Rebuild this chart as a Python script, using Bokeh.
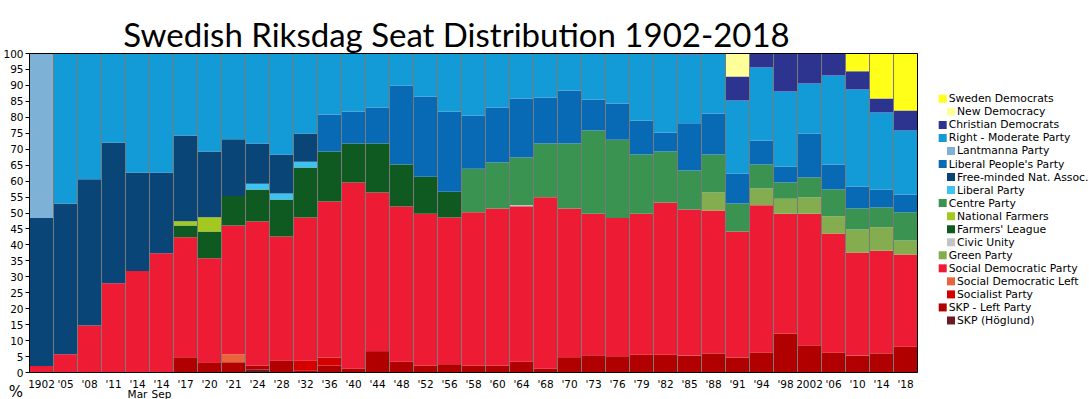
from bokeh.plotting import figure
from bokeh.models import ColumnDataSource, Range1d, FixedTicker, Label, LinearAxis
from bokeh.embed import file_html
from bokeh.resources import INLINE
from bokeh.core.properties import value

# ---------------- data (percent of seats, segment sizes) ----------------
x_labels = ["1902", "'05", "'08", "'11", "'14", "'14", "'17", "'20", "'21", "'24",
            "'28", "'32", "'36", "'40", "'44", "'48", "'52", "'56", "'58", "'60",
            "'64", "'68", "'70", "'73", "'76", "'79", "'82", "'85", "'88", "'91",
            "'94", "'98", "2002", "'06", "'10", "'14", "'18"]
sub_labels = {4: "Mar", 5: "Sep"}

skp_hoglund = [0, 0, 0, 0, 0, 0, 0, 0, 0, 0.9, 0, 0, 0, 0, 0, 0, 0, 0, 0, 0,
               0, 0, 0, 0, 0, 0, 0, 0, 0, 0, 0, 0, 0, 0, 0, 0, 0]
skp_left = [0, 0, 0, 0, 0, 0, 4.8, 3.2, 3.2, 1.3, 3.8, 0.7, 2.2, 1.3, 6.7, 3.4, 2.2, 2.6, 2.2, 2.2,
            3.4, 1.3, 4.8, 5.4, 5.1, 5.6, 5.6, 5.3, 6.0, 4.7, 6.3, 12.2, 8.5, 6.3, 5.3, 6.0, 8.1]
socialist = [0, 0, 0, 0, 0, 0, 0, 0, 0, 0, 0, 3.1, 2.5, 0, 0, 0, 0, 0, 0, 0,
             0, 0, 0, 0, 0, 0, 0, 0, 0, 0, 0, 0, 0, 0, 0, 0, 0]
soc_dem_left = [0, 0, 0, 0, 0, 0, 0, 0, 2.5, 0, 0, 0, 0, 0, 0, 0, 0, 0, 0, 0,
                0, 0, 0, 0, 0, 0, 0, 0, 0, 0, 0, 0, 0, 0, 0, 0, 0]
social_dem = [2.0, 5.7, 14.7, 28.0, 31.8, 37.4, 37.6, 32.6, 40.4, 45.1, 38.8, 44.8, 48.9, 58.3,
              49.7, 48.6, 47.6, 46.0, 48.0, 49.2, 48.7, 53.6, 46.6, 44.4, 43.3, 44.2, 47.7, 45.8,
              44.8, 39.5, 46.1, 37.6, 41.3, 37.3, 32.3, 32.2, 28.9]
green = [0, 0, 0, 0, 0, 0, 0, 0, 0, 0, 0, 0, 0, 0, 0, 0, 0, 0, 0, 0,
         0, 0, 0, 0, 0, 0, 0, 0, 5.6, 0, 5.3, 4.7, 5.1, 5.4, 7.2, 7.3, 4.4]
civic_unity = [0, 0, 0, 0, 0, 0, 0, 0, 0, 0, 0, 0, 0, 0, 0, 0, 0, 0, 0, 0,
               0.4, 0, 0, 0, 0, 0, 0, 0, 0, 0, 0, 0, 0, 0, 0, 0, 0]
farmers_league = [0, 0, 0, 0, 0, 0, 3.7, 8.4, 9.2, 10.1, 11.6, 15.7, 15.7, 12.2, 15.4, 13.2, 11.6, 8.1,
                  0, 0, 0, 0, 0, 0, 0, 0, 0, 0, 0, 0, 0, 0, 0, 0, 0, 0, 0]
national_farmers = [0, 0, 0, 0, 0, 0, 1.3, 4.5, 0, 0, 0, 0, 0, 0, 0, 0, 0, 0, 0, 0,
                    0, 0, 0, 0, 0, 0, 0, 0, 0, 0, 0, 0, 0, 0, 0, 0, 0]
centre = [0, 0, 0, 0, 0, 0, 0, 0, 0, 0, 0, 0, 0, 0, 0, 0, 0, 0, 13.7, 14.4,
          14.9, 16.9, 20.4, 26.1, 24.6, 18.5, 16.0, 12.2, 11.9, 8.8, 7.5, 5.1, 6.2, 8.4, 6.6, 6.2, 8.8]
liberal_party = [0, 0, 0, 0, 0, 0, 0, 0, 0, 1.8, 1.9, 1.8, 0, 0, 0, 0, 0, 0, 0, 0,
                 0, 0, 0, 0, 0, 0, 0, 0, 0, 0, 0, 0, 0, 0, 0, 0, 0]
free_minded = [46.4, 47.3, 45.9, 44.1, 30.9, 25.3, 26.9, 20.6, 17.8, 12.6, 12.2, 8.8,
               0, 0, 0, 0, 0, 0, 0, 0, 0, 0, 0, 0, 0, 0, 0, 0, 0, 0, 0, 0, 0, 0, 0, 0, 0]
liberal_peoples = [0, 0, 0, 0, 0, 0, 0, 0, 0, 0, 0, 0, 11.6, 10.0, 11.3, 24.8, 25.1, 25.1, 16.7, 17.3,
                   18.5, 14.4, 16.6, 9.7, 11.3, 10.7, 5.9, 14.8, 12.9, 9.4, 7.5, 5.0, 13.8, 7.8, 6.9, 5.7, 5.6]
lantmanna = [51.6, 0, 0, 0, 0, 0, 0, 0, 0, 0, 0, 0, 0, 0, 0, 0, 0, 0, 0, 0,
             0, 0, 0, 0, 0, 0, 0, 0, 0, 0, 0, 0, 0, 0, 0, 0, 0]
right_moderate = [0, 47.0, 39.4, 27.9, 37.3, 37.3, 25.7, 30.7, 26.9, 28.2, 31.7, 25.1, 19.1, 18.2,
                  16.9, 10.0, 13.5, 18.2, 19.4, 16.9, 14.1, 13.8, 11.6, 14.4, 15.7, 21.0, 24.8, 21.6,
                  18.8, 22.9, 22.9, 23.5, 15.7, 27.9, 30.4, 24.1, 20.1]
christian_dem = [0, 0, 0, 0, 0, 0, 0, 0, 0, 0, 0, 0, 0, 0, 0, 0, 0, 0, 0, 0,
                 0, 0, 0, 0, 0, 0, 0, 0.3, 0, 7.5, 4.4, 11.9, 9.4, 6.9, 5.7, 4.4, 6.2]
new_democracy = [0, 0, 0, 0, 0, 0, 0, 0, 0, 0, 0, 0, 0, 0, 0, 0, 0, 0, 0, 0,
                 0, 0, 0, 0, 0, 0, 0, 0, 0, 7.2, 0, 0, 0, 0, 0, 0, 0]
sweden_dem = [0, 0, 0, 0, 0, 0, 0, 0, 0, 0, 0, 0, 0, 0, 0, 0, 0, 0, 0, 0,
              0, 0, 0, 0, 0, 0, 0, 0, 0, 0, 0, 0, 0, 0, 5.6, 14.1, 17.9]

# stacking order bottom -> top: (key, legend name, values, colour, indented in legend)
parties = [
    ("hog", "SKP (Höglund)", skp_hoglund, "#6b1a28", True),
    ("skp", "SKP - Left Party", skp_left, "#b00000", False),
    ("soc", "Socialist Party", socialist, "#d50000", True),
    ("sdl", "Social Democratic Left", soc_dem_left, "#e8653b", True),
    ("sd", "Social Democratic Party", social_dem, "#ed1b34", False),
    ("mp", "Green Party", green, "#83ad4f", False),
    ("ms", "Civic Unity", civic_unity, "#c4c4c4", True),
    ("fl", "Farmers' League", farmers_league, "#0f5a21", True),
    ("nf", "National Farmers", national_farmers, "#a3c920", True),
    ("c", "Centre Party", centre, "#3a9350", False),
    ("lp", "Liberal Party", liberal_party, "#3dc3f2", True),
    ("fm", "Free-minded Nat. Assoc.", free_minded, "#0a4577", True),
    ("fp", "Liberal People's Party", liberal_peoples, "#0869b4", False),
    ("lm", "Lantmanna Party", lantmanna, "#7db1d6", True),
    ("m", "Right - Moderate Party", right_moderate, "#139bd7", False),
    ("kd", "Christian Democrats", christian_dem, "#2d3490", False),
    ("nyd", "New Democracy", new_democracy, "#ffff99", True),
    ("swd", "Sweden Democrats", sweden_dem, "#ffff1a", False),
]

N = len(x_labels)
data = {"x": list(range(N))}
for key, _, vals, _, _ in parties:
    data[key] = vals
src = ColumnDataSource(data)

FONT = "DejaVu Sans"

# ---------------- layout (canvas pixels) ----------------
W, H = 1089, 399
FL, FR, FT, FB = 29, 917, 53, 372          # plot box edges on the canvas
ppx = (FR - FL) / N                         # pixels per election column
ppy = (FB - FT) / 100.0                     # pixels per percent

x_range = Range1d(-0.5 - FL / ppx, N - 0.5 + (W - FR) / ppx)
y_range = Range1d(0 - (H - FB) / ppy, 100 + FT / ppy)

p = figure(width=W, height=H, x_range=x_range, y_range=y_range,
           output_backend="svg", toolbar_location=None, min_border=0,
           x_axis_location=None, y_axis_location=None)
p.extra_x_ranges = {"px": Range1d(0, W)}
p.extra_y_ranges = {"px": Range1d(H, 0)}
p.outline_line_color = None
p.grid.visible = False

p.vbar_stack([k for k, *_ in parties], x="x", width=1.0,
             fill_color=[c for _, _, _, c, _ in parties], line_color=None, source=src)
# grey separators around each election column
p.vbar(x="x", width=1.0, bottom=0, top=100, fill_color=None,
       line_color="#7a7a7a", line_width=1, source=src)

# ---------------- axes ----------------
yaxis = LinearAxis(fixed_location=-0.5, bounds=(0, 100),
                   ticker=FixedTicker(ticks=list(range(0, 101, 5))))
yaxis.major_tick_out = 4
yaxis.major_tick_in = 0
yaxis.minor_tick_out = 0
yaxis.minor_tick_in = 0
yaxis.major_label_standoff = 2
p.add_layout(yaxis, "left")

xaxis = LinearAxis(fixed_location=0, bounds=(-0.5, N - 0.5),
                   ticker=FixedTicker(ticks=list(range(N))))
xaxis.major_label_overrides = {i: lab for i, lab in enumerate(x_labels)}
xaxis.major_tick_out = 0
xaxis.major_tick_in = 0
xaxis.minor_tick_out = 0
xaxis.minor_tick_in = 0
xaxis.major_label_standoff = 5
p.add_layout(xaxis, "below")

for ax in (xaxis, yaxis):
    ax.axis_line_color = "black"
    ax.major_tick_line_color = "black"
    ax.major_label_text_font = FONT
    ax.major_label_text_font_size = "10.5px"
    ax.major_label_text_color = "black"

# top and right edges of the plot box
topaxis = LinearAxis(fixed_location=100, bounds=(-0.5, N - 0.5), ticker=FixedTicker(ticks=[]))
rightaxis = LinearAxis(fixed_location=N - 0.5, bounds=(0, 100), ticker=FixedTicker(ticks=[]))
for ax in (topaxis, rightaxis):
    ax.axis_line_color = "black"
    ax.major_tick_out = 0
    ax.major_tick_in = 0
    ax.minor_tick_out = 0
    ax.minor_tick_in = 0
    ax.major_label_text_alpha = 0
p.add_layout(topaxis, "above")
p.add_layout(rightaxis, "right")

# ---------------- texts ----------------
for i, s in sub_labels.items():
    p.add_layout(Label(x=i, y=393, y_range_name="px", text=s,
                       text_font=FONT, text_font_size="10.5px", text_align="center",
                       text_baseline="alphabetic", text_color="black"))

p.add_layout(Label(x=15.5, y=391, x_range_name="px", y_range_name="px", text="%",
                   text_font=FONT, text_font_size="15px", text_align="center",
                   text_baseline="alphabetic", text_color="black"))

p.add_layout(Label(x=456, y=33, x_range_name="px", y_range_name="px",
                   text="Swedish Riksdag Seat Distribution 1902-2018",
                   text_font="Lato", text_font_size="33px", text_align="center",
                   text_baseline="alphabetic", text_color="black"))

# ---------------- legend ----------------
legend_items = list(reversed(parties))
row_y = [98.3 + 13.04 * i for i in range(len(legend_items))]
sw_x = [950.5 if it[4] else 942.2 for it in legend_items]
tx_x = [956.5 if it[4] else 948.2 for it in legend_items]
leg_src = ColumnDataSource(dict(
    y=row_y, sx=sw_x, tx=tx_x,
    color=[it[3] for it in legend_items],
    name=[it[1] for it in legend_items]))
p.rect(x="sx", y="y", width=8, height=8, fill_color="color", line_color=None,
       source=leg_src, x_range_name="px", y_range_name="px")
p.text(x="tx", y="y", text="name", text_font=value(FONT), text_font_size=value("10.8px"),
       text_baseline="middle", text_align="left", text_color="black", source=leg_src,
       x_range_name="px", y_range_name="px")

open("out.html", "w").write(file_html(p, INLINE))
